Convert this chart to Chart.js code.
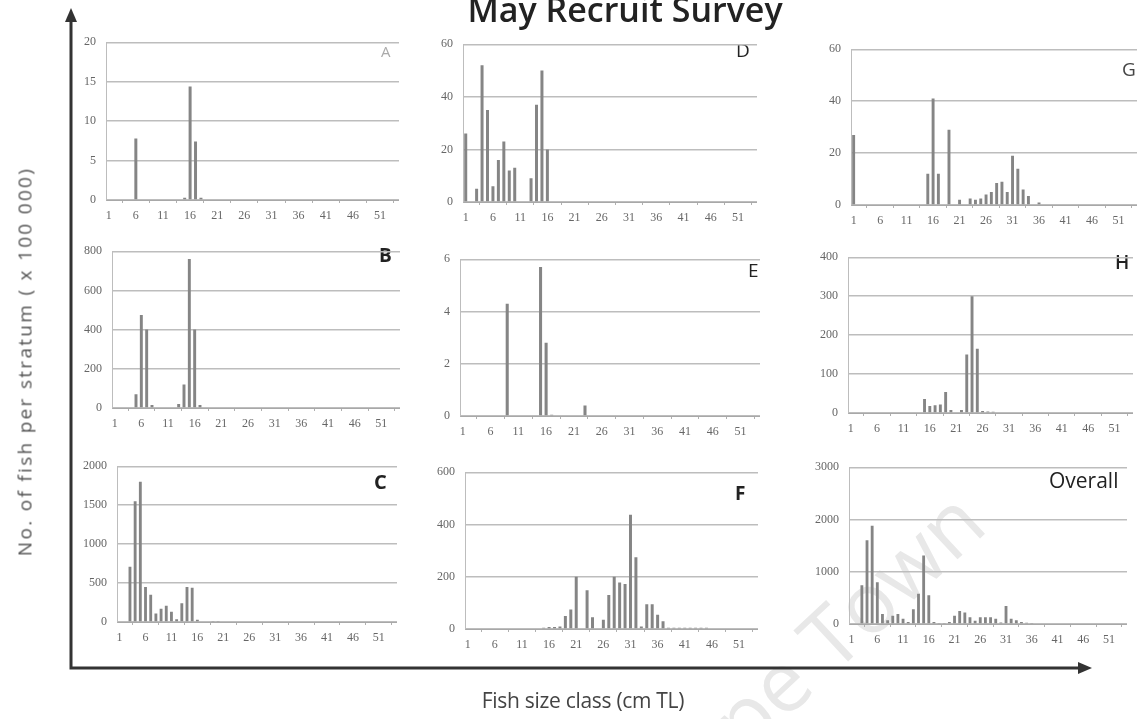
<!DOCTYPE html>
<html>
<head>
<meta charset="utf-8">
<script src="https://cdn.jsdelivr.net/npm/chart.js@4"></script>
<style>
  body { margin: 0; background: #fff; width: 1142px; height: 719px; overflow: hidden; position: relative; }
  canvas { position: absolute; }
  .lbl { position: absolute; font-family: "Open Sans", sans-serif; color: #222; white-space: nowrap; line-height: 1; }
  .watermark { position: absolute; font-family: "Open Sans", sans-serif; color: #e8e8e8; font-size: 84px; white-space: nowrap; transform-origin: left bottom; }
</style>
</head>
<body>
<div class="watermark" style="left:690px;top:728px;transform:rotate(-43deg)">Cape Town</div>
<canvas id="frame" width="1142" height="719" style="left:0;top:0"></canvas>

<div class="lbl" style="left:0;width:1250px;top:-8px;text-align:center;font-size:34px;font-weight:600;">May Recruit Survey</div>
<div class="lbl" style="left:-275px;top:352px;width:600px;text-align:center;font-size:19px;letter-spacing:2.3px;color:#555;transform:rotate(-90deg);">No. of fish per stratum ( x 100 000)</div>
<div class="lbl" style="left:433px;top:690px;width:300px;text-align:center;font-size:21px;letter-spacing:-0.3px;color:#444;">Fish size class (cm TL)</div>

<div class="lbl" style="left:381px;top:44px;font-size:15px;color:#aaa;">A</div>
<div class="lbl" style="left:736px;top:41px;font-size:19px;">D</div>
<div class="lbl" style="left:1122px;top:60px;font-size:19px;color:#444;">G</div>
<div class="lbl" style="left:379px;top:246px;font-size:19px;font-weight:700;">B</div>
<div class="lbl" style="left:748px;top:261px;font-size:19px;">E</div>
<div class="lbl" style="left:1115px;top:253px;font-size:19px;font-weight:600;">H</div>
<div class="lbl" style="left:374px;top:472px;font-size:20px;font-weight:700;">C</div>
<div class="lbl" style="left:735px;top:484px;font-size:19px;font-weight:700;">F</div>
<div class="lbl" style="left:1049px;top:470px;font-size:21px;">Overall</div>

<canvas id="cA"></canvas><canvas id="cD"></canvas><canvas id="cG"></canvas>
<canvas id="cB"></canvas><canvas id="cE"></canvas><canvas id="cH"></canvas>
<canvas id="cC"></canvas><canvas id="cF"></canvas><canvas id="cO"></canvas>

<script>
// size classes (cm TL)
const sizeClasses = [1,2,3,4,5,6,7,8,9,10,11,12,13,14,15,16,17,18,19,20,21,22,23,24,25,26,27,28,29,30,
  31,32,33,34,35,36,37,38,39,40,41,42,43,44,45,46,47,48,49,50,51,52,53,54];
const xTickLabels = ["1","6","11","16","21","26","31","36","41","46","51"];

// no. of fish per stratum (x 100 000), one value per size class
const strataA = [0,0,0,0,0,7.8,0,0,0,0,
  0,0,0,0,0.3,14.4,7.4,0.3,0,0,
  0,0,0,0,0,0,0,0,0,0,
  0,0,0,0,0,0,0,0,0,0,
  0,0,0,0,0,0,0,0,0,0,
  0,0,0,0];
const strataB = [0,0,0,0,70,475,400,15,0,0,
  0,0,20,120,760,400,15,0,0,0,
  0,0,0,0,0,0,0,0,0,0,
  0,0,0,0,0,0,0,0,0,0,
  0,0,0,0,0,0,0,0,0,0,
  0,0,0,0];
const strataC = [0,0,710,1550,1800,450,350,110,170,210,
  130,35,240,450,440,30,10,10,8,5,
  0,0,0,0,0,0,0,0,0,0,
  0,0,0,0,0,0,0,0,0,0,
  0,0,0,0,0,0,0,0,0,0,
  0,0,0,0];
const strataD = [26,0,5,52,35,6,16,23,12,13,
  0,0,9,37,50,20,0,0,0,0,
  0,0,0,0,0,0,0,0,0,0,
  0,0,0,0,0,0,0,0,0,0,
  0,0,0,0,0,0,0,0,0,0,
  0,0,0,0];
const strataE = [0,0,0,0,0,0,0,0,4.3,0,
  0,0,0,0,5.7,2.8,0.05,0,0,0,
  0,0,0.4,0,0,0,0,0,0,0,
  0,0,0,0,0,0,0,0,0,0,
  0,0,0,0,0,0,0,0,0,0,
  0,0,0,0];
const strataF = [0,0,0,0,0,0,0,0,0,0,
  0,0,0,0,5,8,8,10,50,75,
  200,0,148,45,0,35,130,200,178,172,
  437,275,10,95,95,55,30,5,5,5,
  5,5,5,5,5,0,0,0,0,0,
  0,0,0,0];
const strataG = [27,0,0,0,0,0,0,0,0,0,
  0,0,0,0,12,41,12,0,29,0,
  2,0,2.5,2,2.5,4,5,8.5,9,5,
  19,14,6,3.5,0,1,0,0,0.3,0,
  0,0,0,0,0,0,0,0,0,0,
  0,0,0,0];
const strataH = [0,0,0,0,0,0,0,0,0,0,
  0,0,0,0,36,18,20,22,54,8,
  0,8,150,300,165,5,4,3,0,0,
  0,0,0,0,0,0,0,0,0,0,
  0,0,0,0,0,0,0,0,0,0,
  0,0,0,0];
const overall = [0,0,740,1600,1880,800,190,70,160,190,
  100,40,280,580,1310,550,40,20,20,40,
  160,250,220,130,60,130,130,130,100,30,
  345,100,70,40,25,10,0,0,0,0,
  0,0,0,0,0,0,0,0,0,0,
  0,0,0,0];

// y-axis tick labels per panel
const yTicksA = [0,5,10,15,20];
const yTicksB = [0,200,400,600,800];
const yTicksC = [0,500,1000,1500,2000];
const yTicksD = [0,20,40,60];
const yTicksE = [0,2,4,6];
const yTicksF = [0,200,400,600];
const yTicksG = [0,20,40,60];
const yTicksH = [0,100,200,300,400];
const yTicksO = [0,1000,2000,3000];

// plot-area placement: left, right, top, bottom
const panels = [
  { id: "cA", data: strataA, ticks: yTicksA, box: [106, 399, 33, 200] },
  { id: "cD", data: strataD, ticks: yTicksD, box: [463, 757, 35, 202] },
  { id: "cG", data: strataG, ticks: yTicksG, box: [851, 1137, 40, 205] },
  { id: "cB", data: strataB, ticks: yTicksB, box: [112, 400, 242, 408] },
  { id: "cE", data: strataE, ticks: yTicksE, box: [460, 760, 250, 416] },
  { id: "cH", data: strataH, ticks: yTicksH, box: [848, 1133, 248, 413] },
  { id: "cC", data: strataC, ticks: yTicksC, box: [117, 397, 457, 622] },
  { id: "cF", data: strataF, ticks: yTicksF, box: [465, 758, 463, 629] },
  { id: "cO", data: overall, ticks: yTicksO, box: [849, 1127, 458, 624] },
];

const Y_W = 40, TOP_PAD = 8, X_H = 28;
const tickFont = { family: "Liberation Serif", size: 12 };

panels.forEach((p) => {
  const [l, r, t, b] = p.box;
  const cv = document.getElementById(p.id);
  cv.width = r - l + Y_W;
  cv.height = b - t + TOP_PAD + X_H;
  cv.style.left = (l - Y_W) + "px";
  cv.style.top = (t - TOP_PAD) + "px";
  const yMax = p.ticks[p.ticks.length - 1];
  new Chart(cv, {
    type: "bar",
    data: {
      labels: sizeClasses.map(String),
      datasets: [{
        data: p.data,
        backgroundColor: "#858585",
        barPercentage: 0.55,
        categoryPercentage: 1,
      }],
    },
    options: {
      responsive: false,
      animation: false,
      layout: { padding: { top: TOP_PAD, right: 0, left: 0, bottom: 0 } },
      plugins: { legend: { display: false }, tooltip: { enabled: false } },
      scales: {
        x: {
          afterFit: (s) => { s.height = X_H; },
          grid: { display: true, drawOnChartArea: false, drawTicks: true, tickLength: 3, color: "#b0b0b0" },
          border: { color: "#a8a8a8" },
          ticks: {
            autoSkip: false, maxRotation: 0, minRotation: 0, padding: 6,
            color: "#666", font: tickFont,
            callback: function (v) {
              const lab = this.getLabelForValue(v);
              return xTickLabels.includes(lab) ? lab : null;
            },
          },
        },
        y: {
          min: 0, max: yMax,
          afterFit: (s) => { s.width = Y_W; },
          grid: { color: "#bdbdbd", lineWidth: 1.4, drawTicks: false },
          border: { color: "#bdbdbd" },
          ticks: {
            stepSize: p.ticks[1] - p.ticks[0], padding: 10, color: "#666", font: tickFont,
            callback: (v) => String(v),
          },
        },
      },
    },
  });
});

// outer axes with arrows
const fc = document.getElementById("frame").getContext("2d");
fc.strokeStyle = "#333";
fc.fillStyle = "#333";
fc.lineWidth = 3;
fc.beginPath();
fc.moveTo(71, 18);
fc.lineTo(71, 668);
fc.lineTo(1082, 668);
fc.stroke();
fc.beginPath();
fc.moveTo(71, 8); fc.lineTo(65, 22); fc.lineTo(77, 22); fc.closePath(); fc.fill();
fc.beginPath();
fc.moveTo(1092, 668); fc.lineTo(1078, 662); fc.lineTo(1078, 674); fc.closePath(); fc.fill();
</script>
</body>
</html>
